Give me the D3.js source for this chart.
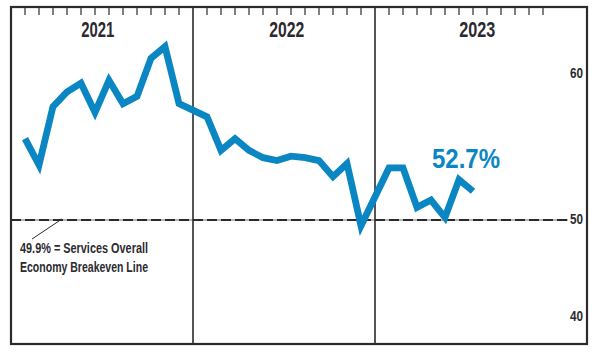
<!DOCTYPE html>
<html><head><meta charset="utf-8">
<script src="https://cdn.jsdelivr.net/npm/d3@7"></script>
<style>html,body{margin:0;padding:0;background:#fff;}svg{display:block;}</style>
</head><body>
<svg id="chart" width="598" height="356"></svg>
<script>
// ---- data ----
const years = ["2021", "2022", "2023"];
const months = ["Jan","Feb","Mar","Apr","May","Jun","Jul","Aug","Sep","Oct","Nov","Dec"];
const values2021 = [55.5, 53.7, 57.7, 58.7, 59.3, 57.3, 59.5, 57.9, 58.4, 61.0, 61.8, 57.9];
const values2022 = [57.0, 54.7, 55.5, 54.7, 54.2, 54.0, 54.3, 54.2, 54.0, 52.9, 53.8, 49.3];
const values2023 = [53.5, 53.5, 50.8, 51.3, 50.1, 52.7, 51.9];
const yTicks = [40, 50, 60];
const breakeven = 49.9;
const breakevenText = ["49.9% = Services Overall", "Economy Breakeven Line"];
const latestLabel = "52.7%";

// ---- layout ----
const svg = d3.select("#chart");
const dark = "#2b2b2f", blue = "#0a86c3";
const frame = {x: 11, y: 7, w: 576, h: 337};
const x = d3.scaleLinear().domain([0, 38]).range([25, 557]);
const y = d3.scaleLinear().domain([40, 50, 60]).range([316, 219, 73]);
const slot = (yi, m) => yi * 13 + m;

const series = [values2021, values2022, values2023];
const points = [];
series.forEach((vals, yi) => vals.forEach((v, m) => points.push({s: slot(yi, m), v})));

svg.append("rect").attr("width", 598).attr("height", 356).attr("fill", "#fff");

// breakeven line: light base + dark dashes
const bx1 = frame.x, bx2 = 568;
svg.append("line").attr("x1", bx1).attr("x2", bx2).attr("y1", y(breakeven)).attr("y2", y(breakeven))
  .attr("stroke", "#b5b5b8").attr("stroke-width", 2);
svg.append("line").attr("x1", bx1).attr("x2", bx2).attr("y1", y(breakeven)).attr("y2", y(breakeven))
  .attr("stroke", dark).attr("stroke-width", 2).attr("stroke-dasharray", "10,4");

// year dividers
[12, 25].forEach(s => {
  svg.append("line").attr("x1", x(s)).attr("x2", x(s)).attr("y1", frame.y).attr("y2", frame.y + frame.h)
    .attr("stroke", dark).attr("stroke-width", 1.6);
});

// month ticks at top
years.forEach((yr, yi) => months.forEach((mo, m) => {
  svg.append("line").attr("x1", x(slot(yi, m))).attr("x2", x(slot(yi, m)))
    .attr("y1", frame.y).attr("y2", frame.y + 8).attr("stroke", dark).attr("stroke-width", 1.2);
}));

// frame
svg.append("rect").attr("x", frame.x).attr("y", frame.y).attr("width", frame.w).attr("height", frame.h)
  .attr("fill", "none").attr("stroke", dark).attr("stroke-width", 2.2);

// year labels
const yearLabelSlot = [5.2, 18.7, 32.3];
const yearWidths = [33, 35, 36];
years.forEach((yr, yi) => {
  svg.append("text").attr("x", x(yearLabelSlot[yi])).attr("y", 37).attr("text-anchor", "middle")
    .attr("font-family", "Liberation Sans, Arial, sans-serif").attr("font-weight", "bold")
    .attr("font-size", 22).attr("fill", dark)
    .attr("textLength", yearWidths[yi]).attr("lengthAdjust", "spacingAndGlyphs").text(yr);
});

// y axis labels
const yAxis = d3.axisLeft(y).tickValues(yTicks).tickSize(0).tickPadding(0).tickFormat(d3.format("d"));
const ya = svg.append("g").attr("transform", "translate(583,0)").call(yAxis);
ya.select(".domain").remove();
ya.selectAll("text").attr("font-family", "Liberation Sans, Arial, sans-serif").attr("font-weight", "bold")
  .attr("font-size", 15).attr("fill", dark).attr("textLength", 13).attr("lengthAdjust", "spacingAndGlyphs");

// data line
const line = d3.line().x(d => x(d.s)).y(d => y(d.v));
svg.append("path").datum(points).attr("d", line).attr("fill", "none")
  .attr("stroke", blue).attr("stroke-width", 6.8).attr("stroke-linejoin", "miter").attr("stroke-miterlimit", 6);

// latest value label
svg.append("text").attr("x", 466).attr("y", 168).attr("text-anchor", "middle")
  .attr("font-family", "Liberation Sans, Arial, sans-serif").attr("font-weight", "bold")
  .attr("font-size", 28).attr("fill", blue)
  .attr("textLength", 68).attr("lengthAdjust", "spacingAndGlyphs").text(latestLabel);

// breakeven annotation
svg.append("line").attr("x1", 32).attr("y1", 239).attr("x2", 62).attr("y2", y(breakeven) - 1)
  .attr("stroke", dark).attr("stroke-width", 1);
breakevenText.forEach((t, i) => {
  svg.append("text").attr("x", 20).attr("y", 253 + i * 18.5)
    .attr("font-family", "Liberation Sans, Arial, sans-serif").attr("font-weight", "bold")
    .attr("font-size", 14.5).attr("fill", dark)
    .attr("textLength", 128).attr("lengthAdjust", "spacingAndGlyphs").text(t);
});
</script>
</body></html>
